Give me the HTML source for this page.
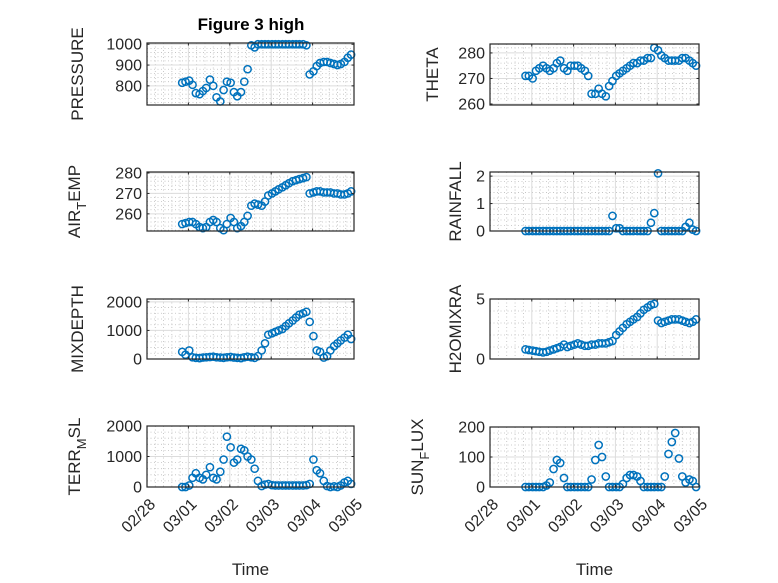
<!DOCTYPE html>
<html><head><meta charset="utf-8"><style>
html,body{margin:0;padding:0;background:#fff}
svg{display:block;font-family:"Liberation Sans","DejaVu Sans",sans-serif}
</style></head><body>
<svg id="fig" width="778" height="583" viewBox="0 0 778 583" xmlns="http://www.w3.org/2000/svg">
<rect width="778" height="583" fill="#fff"/>
<text x="251" y="30" text-anchor="middle" font-size="17" font-weight="bold" fill="#000">Figure 3 high</text>
</svg>
<script>
const times = [0.85,0.93,1.02,1.10,1.18,1.27,1.35,1.43,1.52,1.60,1.68,1.77,1.85,1.93,2.02,2.10,2.18,2.27,2.35,2.43,2.52,2.60,2.68,2.77,2.85,2.93,3.02,3.10,3.18,3.27,3.35,3.43,3.52,3.60,3.68,3.77,3.85,3.93,4.02,4.10,4.18,4.27,4.35,4.43,4.52,4.60,4.68,4.77,4.85,4.93];
const xTickLabels = ["02/28","03/01","03/02","03/03","03/04","03/05"];
const pressure = [815,820,825,805,765,760,775,790,830,800,745,725,780,820,815,770,750,770,820,880,995,985,1000,1000,1000,1000,1000,1000,1000,1000,1000,1000,1000,1000,1000,1000,995,855,870,895,910,915,915,910,905,900,905,915,935,950];
const theta = [271,271,270,273,274,275,274,273,274,276,277,274,273,275,275,275,274,273,271,264,264,266,264,263,267,269,271,272,273,274,275,276,276,277,277,278,278,282,281,279,278,277,277,277,277,278,278,277,276,275];
const airTemp = [255,255.5,256,256,255,253.5,253,253.5,256,257,256,253,252,255,258,256,253,254,256,259,264,265,264.5,264,266,269,270,271,272,273,274,275,276,276.5,277,277.5,278,270,270.5,271,271,270.5,270.5,270.5,270,270,269.5,269.5,270,271];
const rainfall = [0,0,0,0,0,0,0,0,0,0,0,0,0,0,0,0,0,0,0,0,0,0,0,0,0,0.55,0.1,0.1,0,0,0,0,0,0,0,0,0.3,0.65,2.1,0,0,0,0,0,0,0,0.15,0.3,0.05,0];
const mixDepth = [250,150,300,60,40,30,50,60,70,80,60,50,40,60,70,50,40,30,60,80,60,40,100,300,550,850,900,950,1000,1050,1150,1250,1350,1450,1550,1600,1650,1300,800,300,250,50,100,300,450,550,650,750,850,700];
const h2oMixra = [0.8,0.75,0.7,0.65,0.6,0.55,0.6,0.7,0.8,0.9,1.0,1.2,1.0,1.1,1.2,1.3,1.2,1.1,1.1,1.2,1.2,1.3,1.3,1.3,1.4,1.5,2.0,2.3,2.6,2.9,3.1,3.3,3.5,3.8,4.1,4.3,4.5,4.6,3.2,3.0,3.1,3.2,3.3,3.3,3.3,3.2,3.1,3.0,3.1,3.3];
const terrMsl = [0,0,50,300,450,300,250,400,650,300,250,500,900,1650,1300,800,900,1250,1200,1000,900,600,200,30,80,100,60,50,50,50,50,50,50,50,50,50,60,100,900,550,450,200,30,0,20,0,50,150,200,100];
const sunFlux = [0,0,0,0,0,0,5,15,60,90,80,30,0,0,0,0,0,0,0,25,90,140,100,35,0,0,0,0,10,30,40,40,35,20,0,0,0,0,0,0,35,110,150,180,95,35,15,25,20,0];
const pressureTicks = [800,900,1000];
const thetaTicks = [260,270,280];
const airTicks = [260,270,280];
const rainTicks = [0,1,2];
const mixTicks = [0,1000,2000];
const h2oTicks = [0,5];
const terrTicks = [0,1000,2000];
const sunTicks = [0,100,200];

const svg = document.getElementById('fig');
const NS = 'http://www.w3.org/2000/svg';
function mk(tag, attrs, parent){const e=document.createElementNS(NS,tag);for(const k in attrs)e.setAttribute(k,attrs[k]);(parent||svg).appendChild(e);return e;}

const panels = [
 {name:'pressure',x0:147,x1:354,y0:43,y1:105,lo:708,hi:1006,vals:pressure,ticks:pressureTicks,label:['PRESSURE'],lx:83,showX:false},
 {name:'theta',x0:490,x1:699,y0:44,y1:105,lo:259.6,hi:283.5,vals:theta,ticks:thetaTicks,label:['THETA'],lx:438,showX:false},
 {name:'air-temp',x0:147,x1:354,y0:172,y1:231,lo:251.6,hi:280.5,vals:airTemp,ticks:airTicks,label:['AIR','T','EMP'],lx:80,showX:false},
 {name:'rainfall',x0:490,x1:699,y0:172,y1:231,lo:0,hi:2.15,vals:rainfall,ticks:rainTicks,label:['RAINFALL'],lx:461,showX:false},
 {name:'mixdepth',x0:147,x1:354,y0:299,y1:359,lo:0,hi:2100,vals:mixDepth,ticks:mixTicks,label:['MIXDEPTH'],lx:83,showX:false},
 {name:'h2omixra',x0:490,x1:699,y0:299,y1:359,lo:0,hi:5,vals:h2oMixra,ticks:h2oTicks,label:['H2OMIXRA'],lx:461,showX:false},
 {name:'terr-msl',x0:147,x1:354,y0:426,y1:487,lo:0,hi:2000,vals:terrMsl,ticks:terrTicks,label:['TERR','M','SL'],lx:80,showX:true},
 {name:'sun-flux',x0:490,x1:699,y0:427,y1:487,lo:0,hi:200,vals:sunFlux,ticks:sunTicks,label:['SUN','F','LUX'],lx:423,showX:true}
];

panels.forEach(p=>{
  const g = mk('g',{});
  
  
  const xs = d => p.x0 + (d-0)/(5-0)*(p.x1-p.x0);
  const ys = v => p.y1 - (v-p.lo)/(p.hi-p.lo)*(p.y1-p.y0);
  for(let d=0; d<5; d+=0.2){
    const x=xs(d);
    if(Math.abs(d-Math.round(d))>0.01) mk('line',{x1:x,x2:x,y1:p.y0,y2:p.y1,stroke:'#bdbdbd','stroke-width':0.8,'stroke-dasharray':'1 2.5'},g);
  }
  const step = p.ticks.length>1 ? p.ticks[1]-p.ticks[0] : 1;
  const minor = step/5;
  for(let v=Math.ceil(p.lo/minor)*minor; v<=p.hi; v+=minor){
    const r = v/step;
    if(Math.abs(r-Math.round(r))>0.01){const y=ys(v);mk('line',{x1:p.x0,x2:p.x1,y1:y,y2:y,stroke:'#bdbdbd','stroke-width':0.8,'stroke-dasharray':'1 2.5'},g);}
  }
  for(let d=1; d<5; d++){const x=xs(d);mk('line',{x1:x,x2:x,y1:p.y0,y2:p.y1,stroke:'#dcdcdc','stroke-width':1},g);}
  p.ticks.forEach(v=>{const y=ys(v);mk('line',{x1:p.x0,x2:p.x1,y1:y,y2:y,stroke:'#dcdcdc','stroke-width':1},g);});
  const series = mk('g',{},g);
  
  
  p.vals.forEach((v,i)=>{
    const c = mk('circle',{cx:xs(times[i]).toFixed(2),cy:ys(v).toFixed(2),r:3.6,fill:'none',stroke:'#0072BD','stroke-width':1.5},series);
    
    
  });
  mk('rect',{x:p.x0,y:p.y0,width:p.x1-p.x0,height:p.y1-p.y0,fill:'none',stroke:'#262626','stroke-width':1.2},g);
  for(let d=0; d<=5; d++){const x=xs(d);mk('line',{x1:x,x2:x,y1:p.y1,y2:p.y1-2.5,stroke:'#262626'},g);mk('line',{x1:x,x2:x,y1:p.y0,y2:p.y0+2.5,stroke:'#262626'},g);}
  p.ticks.forEach(v=>{
    const y=ys(v);
    mk('line',{x1:p.x0,x2:p.x0+2.5,y1:y,y2:y,stroke:'#262626'},g);
    mk('line',{x1:p.x1,x2:p.x1-2.5,y1:y,y2:y,stroke:'#262626'},g);
    const t = mk('text',{x:p.x0-5,y:y+5.5,'text-anchor':'end','font-size':16,fill:'#262626'},g);
    t.textContent = v;
    
    
  });
  const cy = (p.y0+p.y1)/2;
  const lab = mk('text',{x:p.lx,y:cy,'text-anchor':'middle','font-size':17,fill:'#262626',transform:'rotate(-90 '+p.lx+' '+cy+')'},g);
  
  
  if(p.label.length===1){lab.textContent=p.label[0];}
  else{
    const a=mk('tspan',{},lab);a.textContent=p.label[0];
    const b=mk('tspan',{dy:6,'font-size':13},lab);b.textContent=p.label[1];
    const c=mk('tspan',{dy:-6},lab);c.textContent=p.label[2];
  }
  if(p.showX){
    xTickLabels.forEach((s,d)=>{
      const x=xs(d), y=p.y1+14;
      const t=mk('text',{x:x+5,y:y+6,'text-anchor':'end','font-size':16,fill:'#262626',transform:'rotate(-45 '+(x+5)+' '+y+')'},g);
      t.textContent=s;
      
      
    });
    const xt=mk('text',{x:(p.x0+p.x1)/2,y:575,'text-anchor':'middle','font-size':17,fill:'#262626'},g);
    xt.textContent='Time';
    
    
  }
});
</script>
</body></html>
